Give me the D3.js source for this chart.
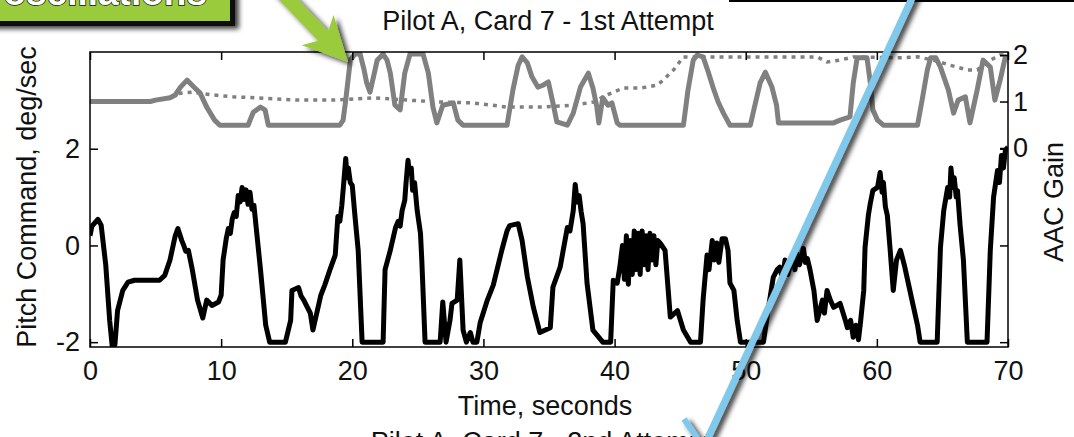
<!DOCTYPE html>
<html>
<head>
<meta charset="utf-8">
<script src="https://cdn.jsdelivr.net/npm/d3@7"></script>
<style>
  body { margin: 0; background: #fff; overflow: hidden; }
  svg { display: block; font-family: "Liberation Sans", Arial, sans-serif; }
</style>
</head>
<body>
<svg id="chart"></svg>
<script>
// tick values
var timeTicks = [0, 10, 20, 30, 40, 50, 60, 70];
var pitchTicks = [-2, 0, 2];
var gainTicks = [0, 1, 2];

// pitch command (deg/sec)
var pitchT = [0,0.15,0.6,0.85,1.2,1.5,1.7,1.9,2.1,2.5,2.9,3.4,5.3,5.7,6.1,6.5,6.7,7.0,7.15,7.3,7.5,7.8,8.2,8.6,8.9,9.3,9.8,10.0,10.15,10.4,10.55,10.7,10.85,11.0,11.15,11.3,11.45,11.6,11.75,11.9,12.05,12.2,12.35,12.5,12.7,13.0,13.4,13.7,14.9,15.3,15.4,15.9,16.1,16.3,16.5,16.8,17.0,17.25,17.6,17.9,18.3,18.7,18.9,19.05,19.2,19.35,19.5,19.6,19.7,19.85,20.0,20.2,20.45,20.75,22.35,22.5,22.9,23.3,23.5,23.65,23.8,24.0,24.1,24.25,24.35,24.5,24.6,24.75,24.95,25.2,25.3,25.55,26.7,26.9,27.15,27.45,27.6,28.0,28.2,28.45,28.7,29.0,29.2,29.5,29.75,30.3,30.75,31.4,31.8,32.0,32.65,32.95,33.35,33.8,34.3,35.1,35.3,35.85,36.4,36.6,36.85,37.0,37.15,37.3,37.45,37.6,37.9,38.35,39.1,39.7,39.9,40.2,40.4,40.6,40.75,40.9,41.05,41.2,41.35,41.5,41.65,41.8,41.95,42.1,42.25,42.4,42.55,42.7,42.85,43.0,43.15,43.3,43.5,43.85,44.25,44.8,45.25,45.8,46.55,46.75,47.05,47.2,47.45,47.6,47.8,47.95,48.2,48.45,48.65,48.8,49.1,49.35,49.6,51.35,51.7,52.1,52.4,52.6,52.8,53.0,53.2,53.4,53.6,53.75,53.9,54.1,54.4,54.55,54.7,54.9,55.2,55.45,55.85,56.0,56.2,56.45,56.7,57.2,57.6,57.75,58.0,58.2,58.4,58.6,58.75,59.0,59.1,59.35,59.5,59.7,60.05,60.25,60.4,60.5,60.65,60.8,61.0,61.25,61.5,61.8,62.1,62.3,62.8,63.1,63.3,64.6,64.85,65.1,65.4,65.55,65.65,65.8,65.9,66.05,66.15,66.35,66.6,66.9,68.4,68.65,68.9,69.2,69.35,69.5,69.65,69.8,70];
var pitchV = [0.2,0.4,0.54,0.42,-0.4,-1.55,-2.1,-2.05,-1.35,-0.93,-0.76,-0.72,-0.72,-0.62,-0.3,0.2,0.35,0.1,0.0,-0.12,-0.1,-0.5,-1.13,-1.5,-1.13,-1.24,-1.17,-1.03,-0.3,0.16,0.35,0.25,0.55,0.68,0.6,1.03,0.9,1.2,0.95,1.15,0.85,1.1,0.75,0.83,0.3,-0.5,-1.65,-2.0,-2.0,-1.55,-0.93,-0.87,-1.05,-1.13,-1.24,-1.4,-1.75,-1.45,-1.03,-0.82,-0.5,-0.2,0.6,0.5,0.82,1.3,1.8,1.4,1.6,1.3,1.24,0.62,-0.1,-2.0,-2.0,-0.5,-0.1,0.37,0.5,0.4,0.72,0.93,1.3,1.76,1.5,1.6,1.14,1.3,0.72,0.25,-0.3,-2.0,-2.0,-1.17,-2.0,-1.55,-1.2,-1.13,-0.3,-1.75,-2.0,-1.8,-2.0,-2.0,-1.6,-1.13,-0.82,-0.1,0.3,0.41,0.45,0.1,-0.65,-1.27,-1.8,-1.7,-0.86,-0.45,0.37,0.3,0.72,1.26,0.9,1.03,0.7,0.45,-0.78,-1.75,-2.0,-2.0,-0.72,-0.78,-0.45,0.0,-0.7,0.2,-0.8,0.1,-0.6,0.3,-0.5,0.25,-0.6,0.3,-0.4,0.2,-0.5,0.25,-0.3,0.2,-0.4,0.1,0.04,-0.1,-1.48,-1.35,-1.75,-2.0,-2.0,-1.13,-0.2,-0.5,0.1,-0.3,0.05,-0.35,0.14,0.14,-0.1,-0.78,-0.93,-1.55,-2.0,-2.0,-1.35,-0.66,-0.5,-0.45,-0.7,-0.3,-0.6,-0.41,-0.2,-0.5,-0.17,-0.4,-0.06,-0.35,-0.27,-0.5,-0.93,-1.55,-1.13,-1.4,-0.93,-1.13,-1.28,-1.2,-1.55,-1.7,-1.55,-1.9,-1.65,-1.95,-1.6,-0.93,-0.04,0.62,0.87,1.14,1.2,1.51,1.1,1.3,0.8,0.62,-0.04,-0.93,-0.3,-0.1,-0.41,-0.66,-1.28,-1.65,-2.0,-2.0,-0.04,0.72,1.2,1.0,1.6,1.2,1.4,1.0,1.13,0.41,-0.3,-2.0,-2.0,-0.1,1.0,1.55,1.3,1.86,1.6,1.97,2.03];

// AAC gain (solid grey)
var gainT = [0,4.6,5.0,6.1,6.5,6.9,7.4,8.0,8.4,8.9,9.5,9.9,12.05,12.45,13.0,13.35,13.6,19.05,19.3,19.5,19.85,20.2,20.6,20.9,21.1,21.35,21.65,21.9,22.35,22.65,22.9,23.25,23.65,24.0,24.4,25.4,25.8,26.15,26.45,26.9,27.7,28.05,28.45,31.8,32.25,32.65,32.95,33.35,33.7,34.15,34.55,34.95,35.3,35.6,36.4,36.85,37.4,38.0,38.35,38.65,38.8,39.1,39.5,39.8,40.2,40.4,45.25,45.6,46.0,46.3,46.75,47.15,47.5,47.9,48.3,48.8,50.35,50.7,51.1,51.5,52.0,52.35,52.5,56.7,57.2,57.95,58.2,58.5,59.25,59.5,59.7,60.05,60.5,63.1,63.45,63.85,64.1,64.5,64.85,65.45,65.85,66.2,66.75,67.1,67.65,68.1,68.65,69.0,69.4,69.8,70];
var gainV = [1.0,1.0,1.03,1.08,1.14,1.31,1.46,1.29,1.18,0.88,0.6,0.49,0.49,0.77,0.88,0.82,0.49,0.49,0.6,1.03,1.89,2.02,2.02,1.68,1.4,1.2,1.57,1.89,2.02,1.89,1.61,0.92,0.82,1.61,2.02,2.02,1.61,0.88,0.54,0.92,0.97,0.6,0.49,0.49,1.25,1.78,1.96,1.83,1.53,1.31,1.35,1.42,0.97,0.56,0.49,0.75,1.31,1.61,1.29,0.88,0.54,1.08,0.92,0.97,0.54,0.49,0.49,1.25,1.89,2.0,1.96,1.63,1.31,0.99,0.75,0.49,0.49,0.92,1.4,1.63,1.31,0.92,0.54,0.54,0.6,0.67,1.4,1.94,1.94,1.4,0.82,0.6,0.49,0.49,1.03,1.68,1.94,1.94,1.74,1.25,0.75,1.03,1.1,0.54,1.25,1.89,1.74,1.03,1.46,1.96,1.94];

// dotted grey trace
var avgT = [0,4.6,5.0,6.1,6.9,7.8,9.4,10.9,12.7,15.8,18.5,21.6,24.2,26.7,29.2,31.8,34.3,36.85,38.4,39.4,40.65,42.0,43.25,43.7,44.5,45.25,46.5,49.05,55.45,56.2,57.2,58.2,61.8,63.1,64.3,65.6,66.9,67.65,68.65,69.4,70];
var avgV = [1.0,1.0,1.03,1.08,1.18,1.2,1.14,1.1,1.08,1.03,1.03,1.08,1.03,0.99,0.97,0.88,0.88,0.92,0.99,1.14,1.29,1.29,1.35,1.46,1.68,1.96,1.96,1.96,1.96,1.85,1.89,1.96,1.94,1.96,1.89,1.78,1.68,1.68,1.89,2.0,2.0];

function PlotyyChart(options) {
  var $$ = this;
  $$.width = options.width;
  $$.height = options.height;
  $$.left = 90; $$.right = 1008; $$.top = 52; $$.bottom = 347;

  $$.x = d3.scaleLinear().domain([0, 70]).range([$$.left, $$.right]);
  $$.yL = d3.scaleLinear().domain([-2.1, 4.0]).range([$$.bottom, $$.top]);
  $$.yR = d3.scaleLinear().domain([-4.28, 2.065]).range([$$.bottom, $$.top]);

  $$.svg = d3.select("#chart").attr("width", $$.width).attr("height", $$.height);

  $$.styleAxis = function (g) {
    g.select(".domain").remove();
    g.selectAll("line").attr("stroke", "#000").attr("stroke-width", 1.5);
    g.selectAll("text").attr("font-size", 27).attr("fill", "#111")
      .attr("font-family", '"Liberation Sans", Arial, sans-serif');
  };

  $$.draw = function () {
    var svg = $$.svg, x = $$.x, yL = $$.yL, yR = $$.yR;
    var defs = svg.append("defs");
    defs.append("clipPath").attr("id", "plotclip").append("rect")
      .attr("x", $$.left).attr("y", $$.top)
      .attr("width", $$.right - $$.left).attr("height", $$.bottom - $$.top);
    var sh = defs.append("filter").attr("id", "shadow")
      .attr("x", "-50%").attr("y", "-50%").attr("width", "200%").attr("height", "200%");
    sh.append("feDropShadow").attr("dx", 4).attr("dy", 3).attr("stdDeviation", 2.5)
      .attr("flood-color", "#000").attr("flood-opacity", 0.75);

    var plot = svg.append("g").attr("clip-path", "url(#plotclip)");
    var lineL = d3.line().x(function (d) { return x(d[0]); }).y(function (d) { return yL(d[1]); });
    var lineR = d3.line().x(function (d) { return x(d[0]); }).y(function (d) { return yR(d[1]); });

    plot.append("path").datum(d3.zip(avgT, avgV))
      .attr("d", lineR).attr("fill", "none").attr("stroke", "#808080")
      .attr("stroke-width", 3.5).attr("stroke-dasharray", "4,5");
    plot.append("path").datum(d3.zip(gainT, gainV))
      .attr("d", lineR).attr("fill", "none").attr("stroke", "#808080")
      .attr("stroke-width", 5).attr("stroke-linejoin", "round");
    plot.append("path").datum(d3.zip(pitchT, pitchV))
      .attr("d", lineL).attr("fill", "none").attr("stroke", "#000")
      .attr("stroke-width", 5).attr("stroke-linejoin", "round");

    var fmt = function (d) { return String(d); };
    svg.append("g").attr("transform", "translate(0," + $$.bottom + ")")
      .call(d3.axisBottom(x).tickValues(timeTicks).tickSize(-8).tickPadding(14).tickFormat(fmt))
      .call($$.styleAxis);
    svg.append("g").attr("transform", "translate(0," + $$.top + ")")
      .call(d3.axisTop(x).tickValues(timeTicks).tickSize(-8).tickFormat(""))
      .call($$.styleAxis);
    svg.append("g").attr("transform", "translate(" + $$.left + ",0)")
      .call(d3.axisLeft(yL).tickValues(pitchTicks).tickSize(-8).tickPadding(10).tickFormat(fmt))
      .call($$.styleAxis);
    svg.append("g").attr("transform", "translate(" + $$.right + ",0)")
      .call(d3.axisRight(yL).tickValues(pitchTicks).tickSize(-8).tickFormat(""))
      .call($$.styleAxis);
    svg.append("g").attr("transform", "translate(" + $$.right + ",0)")
      .call(d3.axisRight(yR).tickValues(gainTicks).tickSize(-8).tickPadding(5).tickFormat(fmt))
      .call($$.styleAxis);

    svg.append("rect").attr("x", $$.left).attr("y", $$.top)
      .attr("width", $$.right - $$.left).attr("height", $$.bottom - $$.top)
      .attr("fill", "none").attr("stroke", "#000").attr("stroke-width", 1.5);

    var txt = function (s, tx, ty, rot) {
      return svg.append("text").text(s).attr("text-anchor", "middle")
        .attr("font-size", 27).attr("fill", "#111")
        .attr("transform", "translate(" + tx + "," + ty + ")" + (rot ? " rotate(" + rot + ")" : ""));
    };
    txt("Pilot A, Card 7 - 1st Attempt", 548, 30);
    txt("Time, seconds", 545, 415);
    txt("Pilot A, Card 7 - 2nd Attempt", 541, 451);
    txt("Pitch Command, deg/sec", 36, 197, -90);
    txt("AAC Gain", 1063, 202, -90);

    // slide overlays
    svg.append("rect").attr("x", 730).attr("y", -60).attr("width", 360).attr("height", 61)
      .attr("fill", "#fff").attr("stroke", "#000").attr("stroke-width", 2);

    var call = svg.append("g");
    call.append("rect").attr("x", -20).attr("y", -60).attr("width", 252.5).attr("height", 83.5)
      .attr("fill", "#9acb3c").attr("stroke", "#111").attr("stroke-width", 5)
      .attr("filter", "url(#shadow)");
    call.append("text").text("oscillations").attr("x", 207).attr("y", 5)
      .attr("text-anchor", "end").attr("font-size", 37).attr("font-weight", "bold")
      .attr("fill", "#fff").attr("stroke", "#111").attr("stroke-width", 1.5)
      .attr("paint-order", "stroke");

    // green arrow
    var ux = 0.69, uy = 0.724, nx = 0.724, ny = -0.69;
    var T = [348, 62], M = [T[0] - 44 * ux, T[1] - 44 * uy];
    var S = [M[0] - 120 * ux, M[1] - 120 * uy], K = [M[0] + 8 * ux, M[1] + 8 * uy];
    var pts = [
      [S[0] + 7 * nx, S[1] + 7 * ny], [K[0] + 7 * nx, K[1] + 7 * ny],
      [M[0] + 22 * nx, M[1] + 22 * ny], T,
      [M[0] - 22 * nx, M[1] - 22 * ny], [K[0] - 7 * nx, K[1] - 7 * ny],
      [S[0] - 7 * nx, S[1] - 7 * ny]
    ];
    svg.append("path").attr("d", d3.line()(pts) + "Z")
      .attr("fill", "#9acb3c").attr("filter", "url(#shadow)");

    // blue line with the start of its arrow head
    var blue = svg.append("g").attr("filter", "url(#shadow)");
    blue.append("line").attr("x1", 925).attr("y1", -30).attr("x2", 700).attr("y2", 455)
      .attr("stroke", "#80c9ec").attr("stroke-width", 7);
    blue.append("line").attr("x1", 684).attr("y1", 419).attr("x2", 704).attr("y2", 448)
      .attr("stroke", "#80c9ec").attr("stroke-width", 6);
  };
}

var chart = new PlotyyChart({ width: 1074, height: 437 });
chart.draw();
</script>
</body>
</html>
